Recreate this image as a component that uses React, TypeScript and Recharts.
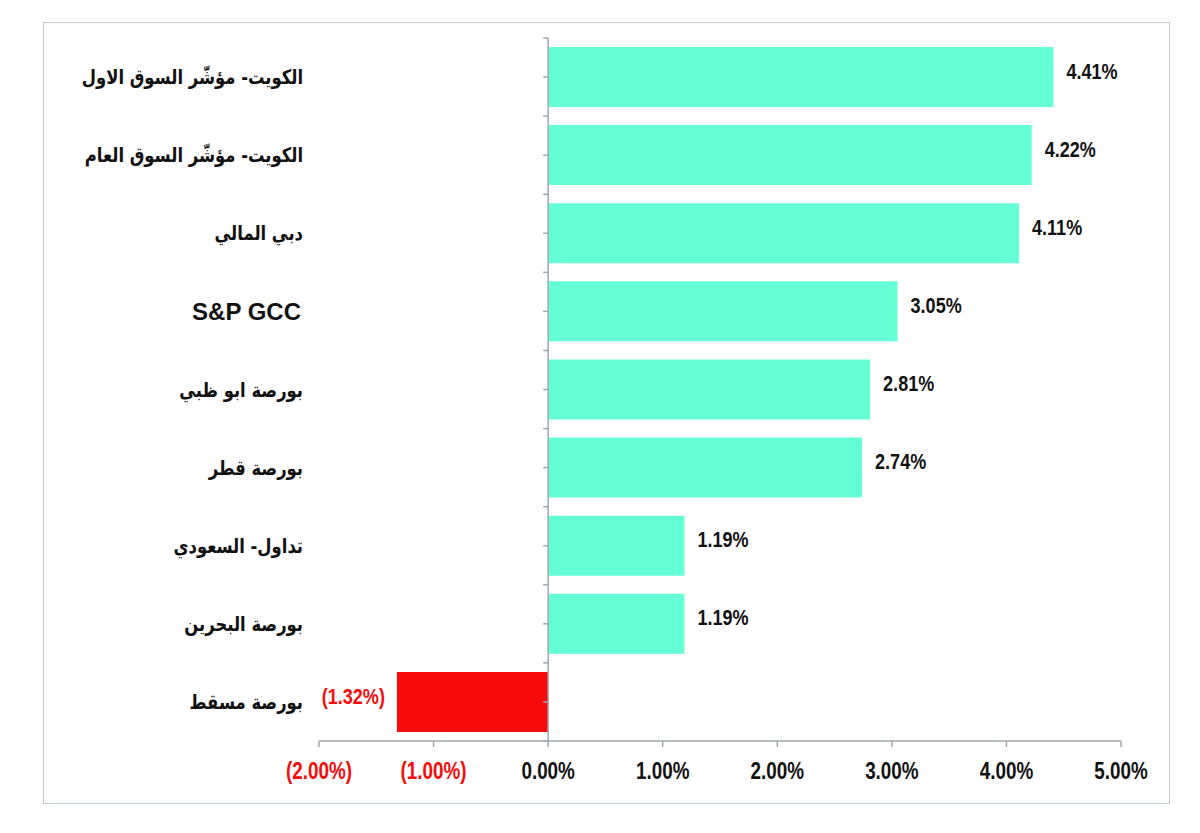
import { BarChart, Bar, XAxis, YAxis, ReferenceLine, LabelList, Cell } from 'recharts';

// Gulf market index changes
const markets = [
  'الكويت- مؤشّر السوق الاول',
  'الكويت- مؤشّر السوق العام',
  'دبي المالي',
  'S&P GCC',
  'بورصة ابو ظبي',
  'بورصة قطر',
  'تداول- السعودي',
  'بورصة البحرين',
  'بورصة مسقط',
];
const changes = [4.41, 4.22, 4.11, 3.05, 2.81, 2.74, 1.19, 1.19, -1.32];
const xTicks = [-2, -1, 0, 1, 2, 3, 4, 5];

const data = markets.map((name, i) => ({ name, value: changes[i] }));

const POS = '#64FFD4';
const NEG = '#F70A0A';
const AXIS = '#9EA8AE';
const SANS = "'Liberation Sans', Arial, sans-serif";
const NARROW = 0.82; // squeeze Arial-like text to look like Arial Narrow

const fmt = (v: number) => (v < 0 ? `(${Math.abs(v).toFixed(2)}%)` : `${v.toFixed(2)}%`);

const XTick = ({ x, y, payload }: any) => (
  <text
    transform={`translate(${x},${y}) scale(${NARROW},1)`}
    dy="0.71em"
    textAnchor="middle"
    fill={payload.value < 0 ? NEG : '#111'}
    fontFamily={SANS}
    fontWeight={700}
    fontSize={23}
  >
    {fmt(payload.value)}
  </text>
);

const YTick = ({ x, y, payload }: any) => {
  const latin = /^[\x00-\x7F]+$/.test(payload.value);
  return (
    <text
      transform={`translate(${latin ? x - 2 : x},${y}) scale(${latin ? 1 : 0.82},1)`}
      dy="0.35em"
      textAnchor="end"
      fill="#111"
      fontFamily={latin ? SANS : "'DejaVu Sans', sans-serif"}
      fontWeight={700}
      fontSize={latin ? 24 : 20}
    >
      {payload.value}
    </text>
  );
};

const ValueLabel = (props: any) => {
  const { x, y, width, height, value } = props;
  const left = Math.min(x, x + width);
  const right = Math.max(x, x + width);
  const neg = value < 0;
  const tx = neg ? left - 12 : right + 13;
  return (
    <text
      transform={`translate(${tx},${y + height / 2 - 6}) scale(${NARROW},1)`}
      textAnchor={neg ? 'end' : 'start'}
      dominantBaseline="central"
      fill={neg ? NEG : '#111'}
      fontFamily={SANS}
      fontWeight={700}
      fontSize={22}
    >
      {fmt(value)}
    </text>
  );
};

// zero line with small ticks at band centres and edges
const ZeroAxis = (props: any) => {
  const { x1, y1, x2, y2 } = props;
  const steps = markets.length * 2;
  const ticks = Array.from({ length: steps + 1 }, (_, k) => y1 + ((y2 - y1) * k) / steps);
  return (
    <g>
      <line x1={x1} y1={y1} x2={x2} y2={y2} stroke={AXIS} strokeWidth={1.5} />
      {ticks.map((ty, k) => (
        <line key={k} x1={x1 - 5} y1={ty} x2={x1} y2={ty} stroke={AXIS} strokeWidth={1.5} />
      ))}
    </g>
  );
};

const App = () => {
  return (
    <div
      style={{
        position: 'absolute',
        left: 43,
        top: 22,
        width: 1125,
        height: 780,
        border: '1.5px solid #BFC8CC',
        background: '#fff',
      }}
    >
      <BarChart
        width={1125}
        height={780}
        data={data}
        layout="vertical"
        margin={{ top: 15, right: 48, left: 0, bottom: 0 }}
        barCategoryGap={9}
      >
        <XAxis
          type="number"
          domain={[-2, 5]}
          ticks={xTicks}
          interval={0}
          height={62}
          axisLine={{ stroke: AXIS, strokeWidth: 1.5 }}
          tickLine={{ stroke: AXIS, strokeWidth: 1.5 }}
          tickSize={6}
          tickMargin={16}
          tick={<XTick />}
        />
        <YAxis
          type="category"
          dataKey="name"
          width={275}
          axisLine={false}
          tickLine={false}
          tickSize={0}
          tickMargin={16}
          interval={0}
          tick={<YTick />}
        />
        <ReferenceLine x={0} shape={<ZeroAxis />} />
        <Bar dataKey="value" isAnimationActive={false}>
          {data.map((d, i) => (
            <Cell key={i} fill={d.value < 0 ? NEG : POS} />
          ))}
          <LabelList dataKey="value" content={<ValueLabel />} />
        </Bar>
      </BarChart>
    </div>
  );
};

export default App;
